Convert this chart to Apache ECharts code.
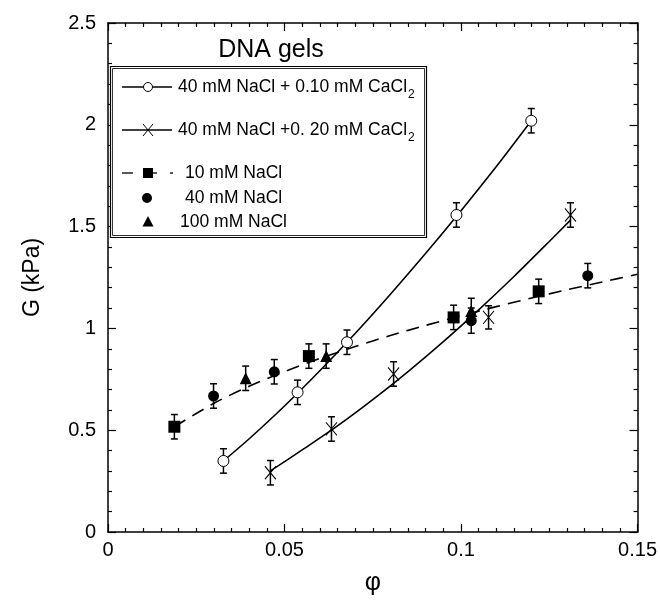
<!DOCTYPE html>
<html>
<head>
<meta charset="utf-8">
<script src="https://cdn.jsdelivr.net/npm/echarts@6/dist/echarts.min.js"></script>
<style>
html,body{margin:0;padding:0;background:#fff;}
#c{width:660px;height:601px;}
</style>
</head>
<body>
<div id="c"></div>
<script>
// ---- data ----
const openX = [0.0327, 0.0537, 0.0677, 0.0987, 0.1199];
const openY = [0.349, 0.686, 0.932, 1.557, 2.02];
const openErr = [0.06, 0.06, 0.06, 0.06, 0.06];

const crossX = [0.046, 0.0633, 0.0809, 0.1078, 0.131];
const crossY = [0.291, 0.506, 0.776, 1.054, 1.557];
const crossErr = [0.06, 0.06, 0.06, 0.057, 0.06];

const sqX = [0.0188, 0.0569, 0.0979, 0.122];
const sqY = [0.517, 0.864, 1.054, 1.182];
const sqErr = [0.06, 0.06, 0.06, 0.06];

const fcX = [0.0299, 0.0471, 0.1029, 0.1359];
const fcY = [0.668, 0.787, 1.038, 1.259];
const fcErr = [0.06, 0.06, 0.062, 0.06];

const triX = [0.039, 0.0618, 0.1029];
const triY = [0.755, 0.864, 1.085];
const triErr = [0.06, 0.06, 0.063];

// fitted curves
const fit1X = [0.0327, 0.04, 0.05, 0.06, 0.07, 0.08, 0.09, 0.10, 0.11, 0.1199];
const fit1Y = [0.349, 0.458, 0.619, 0.792, 0.975, 1.168, 1.369, 1.578, 1.795, 2.02];
const fit2X = [0.046, 0.055, 0.065, 0.075, 0.085, 0.095, 0.105, 0.115, 0.125, 0.131];
const fit2Y = [0.30, 0.403, 0.521, 0.650, 0.788, 0.935, 1.091, 1.255, 1.427, 1.532];
const fit3X = [0.0188, 0.03, 0.04, 0.05, 0.06, 0.07, 0.08, 0.09, 0.10, 0.11, 0.12, 0.13, 0.14, 0.15];
const fit3Y = [0.517, 0.632, 0.716, 0.788, 0.852, 0.911, 0.965, 1.015, 1.062, 1.107, 1.149, 1.190, 1.228, 1.266];

const xTicks = [0, 0.05, 0.1, 0.15];
const yTicks = [0, 0.5, 1, 1.5, 2, 2.5];

const legendLabels = ['40 mM NaCl + 0.10 mM CaCl', '40 mM NaCl +0. 20 mM CaCl', '10 mM NaCl', '40 mM NaCl', '100 mM NaCl'];
const titleText = 'DNA gels';

// ---- build ----
const FONT = 'Liberation Sans, Arial, sans-serif';
const zip = (a, b) => a.map((v, i) => [v, b[i]]);
const errData = (xs, ys, es) => xs.map((x, i) => [x, ys[i] - es[i], ys[i] + es[i]]);

const crossPath = 'path://M0,0L10,12M10,0L0,12';

function errRender(params, api) {
  const x = api.value(0);
  const p1 = api.coord([x, api.value(1)]);
  const p2 = api.coord([x, api.value(2)]);
  const w = 3.5;
  const st = {stroke: '#000', lineWidth: 1.5};
  return {
    type: 'group',
    children: [
      {type: 'line', shape: {x1: p1[0], y1: p1[1], x2: p2[0], y2: p2[1]}, style: st},
      {type: 'line', shape: {x1: p1[0] - w, y1: p1[1], x2: p1[0] + w, y2: p1[1]}, style: st},
      {type: 'line', shape: {x1: p2[0] - w, y1: p2[1], x2: p2[0] + w, y2: p2[1]}, style: st}
    ]
  };
}

const allErr = [].concat(
  errData(openX, openY, openErr),
  errData(crossX, crossY, crossErr),
  errData(sqX, sqY, sqErr),
  errData(fcX, fcY, fcErr),
  errData(triX, triY, triErr)
);

const axisCommon = {
  axisLine: {show: true, onZero: false, lineStyle: {color: '#000', width: 1.5}},
  axisTick: {show: true, inside: true, length: 8, lineStyle: {color: '#000', width: 1.2}},
  minorTick: {show: true, length: 4, lineStyle: {color: '#000', width: 1.2}},
  splitLine: {show: false},
  minorSplitLine: {show: false}
};

const xBase = Object.assign({}, axisCommon, {
  type: 'value', min: 0, max: 0.15, interval: 0.05,
  minorTick: Object.assign({}, axisCommon.minorTick, {splitNumber: 10})
});
const yBase = Object.assign({}, axisCommon, {
  type: 'value', min: 0, max: 2.5, interval: 0.5,
  minorTick: Object.assign({}, axisCommon.minorTick, {splitNumber: 5})
});

const LFONT = '17.5px ' + FONT;
const rich2 = {a: {font: LFONT, fill: '#000'}, s: {font: '12px ' + FONT, fill: '#000', padding: [15, 0, 0, 1]}};

const option = {
  backgroundColor: '#fff',
  animation: false,
  grid: {left: 108, right: 18, top: 23, bottom: 69, containLabel: false},
  xAxis: [
    Object.assign({}, xBase, {
      position: 'bottom',
      axisLabel: {show: true, color: '#000', fontSize: 20, fontFamily: FONT, margin: 8,
        formatter: v => { const t = xTicks.find(k => Math.abs(k - v) < 1e-9); return t === undefined ? '' : String(t); }},
      name: 'φ', nameLocation: 'middle', nameGap: 39,
      nameTextStyle: {color: '#000', fontSize: 25, fontFamily: FONT}
    }),
    Object.assign({}, xBase, {position: 'top', axisLabel: {show: false}})
  ],
  yAxis: [
    Object.assign({}, yBase, {
      position: 'left',
      axisLabel: {show: true, color: '#000', fontSize: 20, fontFamily: FONT, margin: 12,
        formatter: v => { const t = yTicks.find(k => Math.abs(k - v) < 1e-9); return t === undefined ? '' : String(t); }},
      name: 'G (kPa)', nameLocation: 'middle', nameGap: 64,
      nameTextStyle: {color: '#000', fontSize: 23, fontFamily: FONT}
    }),
    Object.assign({}, yBase, {position: 'right', axisLabel: {show: false}})
  ],
  series: [
    {type: 'line', name: 'fit1', data: zip(fit1X, fit1Y), smooth: 0.3, showSymbol: false,
      lineStyle: {color: '#000', width: 1.6}, z: 2},
    {type: 'line', name: 'fit2', data: zip(fit2X, fit2Y), smooth: 0.3, showSymbol: false,
      lineStyle: {color: '#000', width: 1.6}, z: 2},
    {type: 'line', name: 'fit3', data: zip(fit3X, fit3Y), smooth: 0.3, showSymbol: false,
      lineStyle: {color: '#000', width: 1.6, type: [13, 8]}, z: 2},
    {type: 'custom', name: 'err', renderItem: errRender, data: allErr, z: 3,
      encode: {x: 0, y: [1, 2]}},
    {type: 'scatter', name: legendLabels[0], data: zip(openX, openY), symbol: 'circle', symbolSize: 11,
      itemStyle: {color: '#fff', borderColor: '#000', borderWidth: 1, opacity: 1}, z: 4},
    {type: 'scatter', name: legendLabels[1], data: zip(crossX, crossY), symbol: crossPath, symbolSize: [11, 13],
      itemStyle: {color: 'none', borderColor: '#000', borderWidth: 1, opacity: 1}, z: 4},
    {type: 'scatter', name: legendLabels[2], data: zip(sqX, sqY), symbol: 'rect', symbolSize: 12,
      itemStyle: {color: '#000', opacity: 1}, z: 4},
    {type: 'scatter', name: legendLabels[3], data: zip(fcX, fcY), symbol: 'circle', symbolSize: 11,
      itemStyle: {color: '#000', opacity: 1}, z: 4},
    {type: 'scatter', name: legendLabels[4], data: zip(triX, triY), symbol: 'triangle', symbolSize: 12,
      itemStyle: {color: '#000', opacity: 1}, z: 4}
  ],
  graphic: [
    {type: 'text', x: 271, y: 50, style: {text: titleText, font: '25px ' + FONT, fill: '#000',
      textAlign: 'center', textVerticalAlign: 'middle'}, z: 10},
    {type: 'rect', shape: {x: 110.5, y: 66.5, width: 316, height: 171}, style: {fill: '#fff', stroke: '#000', lineWidth: 1.2}, z: 9},
    {type: 'rect', shape: {x: 112.5, y: 68.5, width: 312, height: 167}, style: {fill: 'none', stroke: '#000', lineWidth: 0.8}, z: 9},
    // row 1
    {type: 'line', shape: {x1: 122, y1: 87, x2: 172, y2: 87}, style: {stroke: '#000', lineWidth: 1.3}, z: 10},
    {type: 'circle', shape: {cx: 148, cy: 87, r: 4.5}, style: {fill: '#fff', stroke: '#000', lineWidth: 1}, z: 11},
    {type: 'text', style: {x: 178, y: 87, text: '{a|' + legendLabels[0] + '}{s|2}', textVerticalAlign: 'middle', rich: rich2}, z: 10},
    // row 2
    {type: 'line', shape: {x1: 122, y1: 130, x2: 172, y2: 130}, style: {stroke: '#000', lineWidth: 1.3}, z: 10},
    {type: 'line', shape: {x1: 143, y1: 124, x2: 153, y2: 136}, style: {stroke: '#000', lineWidth: 1}, z: 11},
    {type: 'line', shape: {x1: 153, y1: 124, x2: 143, y2: 136}, style: {stroke: '#000', lineWidth: 1}, z: 11},
    {type: 'text', style: {x: 178, y: 130, text: '{a|' + legendLabels[1] + '}{s|2}', textVerticalAlign: 'middle', rich: rich2}, z: 10},
    // row 3
    {type: 'line', shape: {x1: 122, y1: 173, x2: 133, y2: 173}, style: {stroke: '#000', lineWidth: 1.3}, z: 10},
    {type: 'line', shape: {x1: 143, y1: 173, x2: 157, y2: 173}, style: {stroke: '#000', lineWidth: 1.3}, z: 10},
    {type: 'line', shape: {x1: 170, y1: 173, x2: 173, y2: 173}, style: {stroke: '#000', lineWidth: 1.3}, z: 10},
    {type: 'rect', shape: {x: 143, y: 168, width: 10, height: 10}, style: {fill: '#000'}, z: 11},
    {type: 'text', style: {x: 185, y: 173, text: legendLabels[2], textVerticalAlign: 'middle', font: LFONT, fill: '#000'}, z: 10},
    // row 4
    {type: 'circle', shape: {cx: 147, cy: 198, r: 5}, style: {fill: '#000'}, z: 11},
    {type: 'text', style: {x: 185, y: 198, text: legendLabels[3], textVerticalAlign: 'middle', font: LFONT, fill: '#000'}, z: 10},
    // row 5
    {type: 'polygon', shape: {points: [[148, 216], [153.5, 226.5], [142.5, 226.5]]}, style: {fill: '#000'}, z: 11},
    {type: 'text', style: {x: 180, y: 222, text: legendLabels[4], textVerticalAlign: 'middle', font: LFONT, fill: '#000'}, z: 10}
  ]
};

const chart = echarts.init(document.getElementById('c'), null, {renderer: 'canvas'});
chart.setOption(option);
</script>
</body>
</html>
